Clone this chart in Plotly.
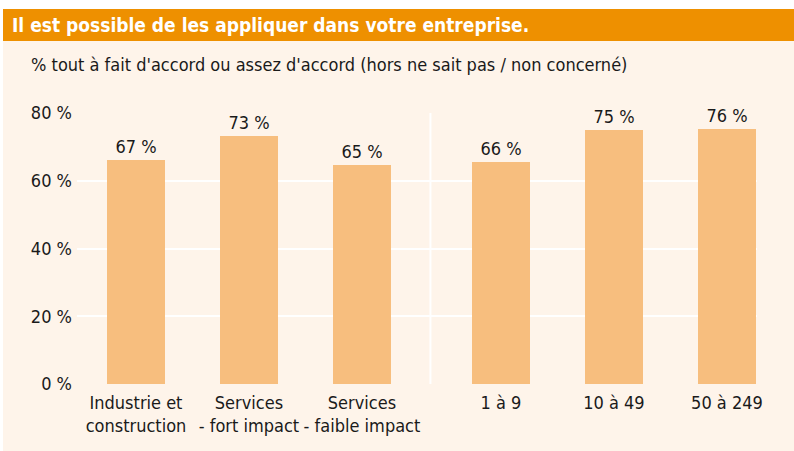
import plotly.graph_objects as go

categories = ["Industrie et<br>construction", "Services<br>- fort impact", "Services<br>- faible impact",
              "1 à 9", "10 à 49", "50 à 249"]
values = [66.2, 73.2, 64.6, 65.6, 75.0, 75.4]
value_labels = ["67 %", "73 %", "65 %", "66 %", "75 %", "76 %"]
y_ticks = [0, 20, 40, 60, 80]
y_tick_labels = ["0 %", "20 %", "40 %", "60 %", "80 %"]

title = "Il est possible de les appliquer dans votre entreprise."
subtitle = "% tout à fait d'accord ou assez d'accord (hors ne sait pas / non concerné)"

GAP = 0.23
xpos = [i + (GAP if i >= 3 else 0) for i in range(len(categories))]

FONT = "DejaVu Sans Condensed, Liberation Sans Narrow, sans-serif"
TXT = "#1a1a1a"

fig = go.Figure()
fig.add_trace(go.Bar(
    x=xpos, y=values, width=0.52,
    marker=dict(color="#F7BE7E", line=dict(width=0)),
    text=value_labels, textposition="outside", cliponaxis=False,
    textfont=dict(size=18, color=TXT, family=FONT),
    hoverinfo="skip",
))

W, H = 794, 451
left, right, top, bottom = 77, 757, 113, 384


def px(xp):
    return (xp - left) / (right - left)


def py(yp):
    return (bottom - yp) / (bottom - top)


fig.update_layout(
    width=W, height=H,
    margin=dict(l=left, r=W - right, t=top, b=H - bottom),
    paper_bgcolor="white", plot_bgcolor="rgba(0,0,0,0)",
    showlegend=False,
    font=dict(family=FONT, size=18, color=TXT),
    xaxis=dict(range=[-0.522, 5.496], tickvals=xpos, ticktext=categories,
               showgrid=False, zeroline=False, showline=False, ticks="",
               ticklabelstandoff=6,
               tickfont=dict(size=18, family=FONT, color=TXT), fixedrange=True),
    yaxis=dict(range=[0, 80], tickvals=y_ticks, ticktext=y_tick_labels,
               showgrid=True, gridcolor="white", gridwidth=2, zeroline=False,
               showline=False, ticks="", ticklabelstandoff=4,
               tickfont=dict(size=18, family=FONT, color=TXT), fixedrange=True),
    bargap=0,
    shapes=[
        dict(type="rect", xref="paper", yref="paper", layer="below",
             x0=px(3), x1=px(W), y0=py(H), y1=py(41),
             fillcolor="#FEF4EA", line=dict(width=0)),
        dict(type="rect", xref="paper", yref="paper", layer="below",
             x0=px(3), x1=px(W), y0=py(41), y1=py(9),
             fillcolor="#EE9000", line=dict(width=0)),
        dict(type="line", xref="x", yref="paper", layer="below",
             x0=2.606, x1=2.606, y0=0, y1=1,
             line=dict(color="white", width=2)),
    ],
    annotations=[
        dict(text="<b>" + title + "</b>", xref="paper", yref="paper",
             x=px(10), y=py(25), xanchor="left", yanchor="middle", showarrow=False,
             font=dict(size=19, color="white", family=FONT)),
        dict(text=subtitle, xref="paper", yref="paper",
             x=px(29), y=py(65), xanchor="left", yanchor="middle", showarrow=False,
             font=dict(size=18, color=TXT, family=FONT)),
    ],
)

fig.write_html("out.html", config={"displayModeBar": False},
               post_script="document.body.style.margin='0';document.body.style.overflow='hidden';")
